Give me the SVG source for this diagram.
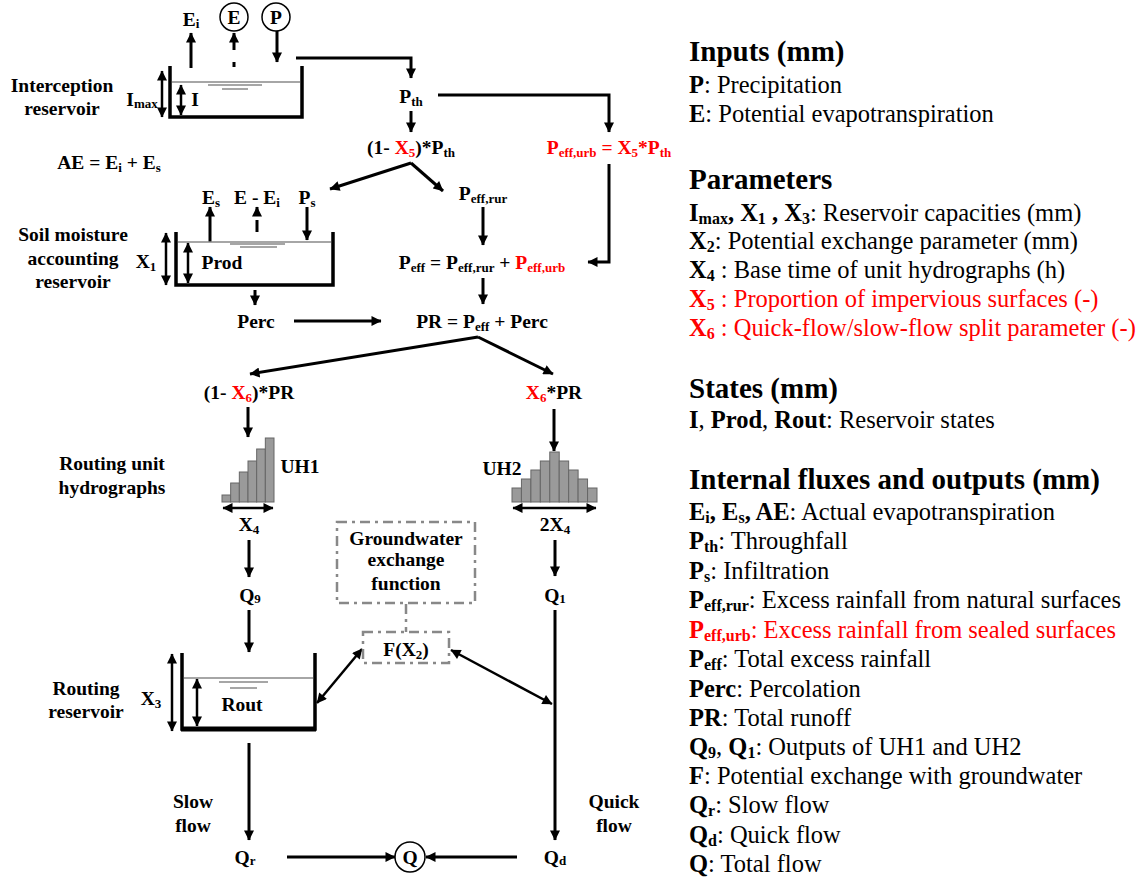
<svg xmlns="http://www.w3.org/2000/svg" width="1138" height="881" viewBox="0 0 1138 881" font-family="'Times New Roman', 'Liberation Serif', serif">
<defs>
<marker id="ah" viewBox="0 0 10 10" refX="9.5" refY="5" markerWidth="11" markerHeight="10" markerUnits="userSpaceOnUse" orient="auto-start-reverse"><path d="M0,0 L10,5 L0,10 z" fill="#000"/></marker>
</defs>
<style>
text, tspan{font-family:'Times New Roman','Liberation Serif',serif}
text{fill:#000}
.t{font-weight:bold;font-size:19.5px;text-anchor:middle}
.s{font-size:13px}
.r{fill:#ff0000}
.lg{font-size:24.5px}
.lh{font-size:29px;font-weight:bold}
.b{font-weight:bold}
.ls{font-size:16px;font-weight:bold}
.ln{stroke:#000;stroke-width:3;fill:none}
.ln2{stroke:#000;stroke-width:2.5;fill:none}
.ar{marker-end:url(#ah)}
.da{marker-start:url(#ah);marker-end:url(#ah)}
.wall{stroke:#000;stroke-width:3.5;fill:none}
.wl{stroke:#888;stroke-width:1.5}
.gd{stroke:#888;stroke-width:2.5;fill:none;stroke-dasharray:10 5 3 5}
.bar{fill:#9a9a9a;stroke:#666;stroke-width:1}
</style>
<rect width="1138" height="881" fill="#fff"/>

<g id="connectors">
<line x1="191" y1="68" x2="191" y2="33" class="ln ar"/>
<rect x="232.5" y="62" width="3" height="5" fill="#000"/>
<line x1="234" y1="50" x2="234" y2="33" class="ln ar"/>
<line x1="277" y1="31" x2="277" y2="62" class="ln ar"/>
<path d="M296,58 H411 V78" class="ln ar"/>
<path d="M438,95 H609 V132" class="ln ar"/>
<line x1="411" y1="111" x2="411" y2="132" class="ln ar"/>
<line x1="411" y1="163" x2="330" y2="189" class="ln ar"/>
<line x1="411" y1="163" x2="443" y2="191" class="ln ar"/>
<line x1="483" y1="207" x2="483" y2="245" class="ln ar"/>
<path d="M609,164 V262 H588" class="ln ar"/>
<line x1="483" y1="278" x2="483" y2="304" class="ln ar"/>
<line x1="294" y1="321" x2="381" y2="321" class="ln ar"/>
<line x1="210" y1="242" x2="210" y2="207" class="ln ar"/>
<line x1="257" y1="232" x2="257" y2="220" class="ln"/>
<line x1="257" y1="216" x2="257" y2="207" class="ln ar"/>
<line x1="307" y1="207" x2="307" y2="240" class="ln ar"/>
<line x1="255" y1="290" x2="255" y2="305" class="ln ar"/>
<line x1="478" y1="337" x2="250" y2="374" class="ln ar"/>
<line x1="478" y1="337" x2="553" y2="374" class="ln ar"/>
<line x1="248" y1="407" x2="248" y2="437" class="ln ar"/>
<line x1="554" y1="409" x2="554" y2="451" class="ln ar"/>
<line x1="249" y1="540" x2="249" y2="577" class="ln ar"/>
<line x1="555" y1="540" x2="555" y2="576" class="ln ar"/>
<line x1="249" y1="610" x2="249" y2="652" class="ln ar"/>
<line x1="249" y1="743" x2="249" y2="840" class="ln ar"/>
<line x1="555" y1="610" x2="555" y2="840" class="ln ar"/>
<line x1="287" y1="857" x2="395" y2="857" class="ln ar"/>
<line x1="517" y1="857" x2="426" y2="857" class="ln ar"/>
<line x1="406" y1="604" x2="406" y2="632" class="gd"/>
<line x1="317" y1="703" x2="362" y2="649" class="ln2 da"/>
<line x1="451" y1="650" x2="552" y2="704" class="ln2 da"/>
</g>

<g id="inputs">
<text x="191" y="26" class="t">E<tspan class="s" dy="2">i</tspan></text>
<circle cx="234" cy="17" r="14" fill="#fff" stroke="#000" stroke-width="1.5"/>
<text x="234" y="24" class="t">E</text>
<circle cx="276" cy="17" r="14" fill="#fff" stroke="#000" stroke-width="1.5"/>
<text x="276" y="24" class="t">P</text>
</g>

<g id="interception">
<path d="M170,66 V117 H302 V66" class="wall"/>
<line x1="172" y1="82" x2="300" y2="82" class="wl"/>
<line x1="208" y1="85" x2="262" y2="85" class="wl"/>
<line x1="222" y1="89" x2="248" y2="89" class="wl"/>
<line x1="162" y1="71" x2="162" y2="117" class="ln2 da"/>
<line x1="181" y1="85" x2="181" y2="115" class="ln2 da"/>
<text x="142" y="106" class="t">I<tspan class="s" dy="2">max</tspan></text>
<text x="195" y="106" class="t">I</text>
<text x="62" y="92" class="t">Interception</text>
<text x="62" y="115" class="t">reservoir</text>
</g>

<g id="pth">
<text x="411" y="103" class="t">P<tspan class="s" dy="3">th</tspan></text>
</g>
<g id="rural-split">
<text x="411" y="154" class="t">(1- <tspan class="r">X<tspan class="s" dy="3">5</tspan></tspan><tspan dy="-3">)*P</tspan><tspan class="s" dy="3">th</tspan></text>
</g>
<g id="peff-urb">
<text x="609" y="154" class="t r">P<tspan class="s r" dy="3">eff,urb</tspan><tspan class="r" dy="-3"> = X</tspan><tspan class="s r" dy="3">5</tspan><tspan class="r" dy="-3">*P</tspan><tspan class="s r" dy="3">th</tspan></text>
</g>
<g id="ae">
<text x="109" y="169" class="t">AE = E<tspan class="s" dy="3">i</tspan><tspan dy="-3"> + E</tspan><tspan class="s" dy="3">s</tspan></text>
</g>

<g id="soil">
<text x="211" y="204" class="t">E<tspan class="s" dy="3">s</tspan></text>
<text x="257" y="204" class="t">E - E<tspan class="s" dy="3">i</tspan></text>
<text x="307" y="204" class="t">P<tspan class="s" dy="3">s</tspan></text>
<path d="M176,232 V285 H333 V232" class="wall"/>
<line x1="178" y1="242" x2="331" y2="242" class="wl"/>
<line x1="230" y1="244" x2="285" y2="244" class="wl"/>
<line x1="240" y1="247" x2="277" y2="247" class="wl"/>
<line x1="166" y1="233" x2="166" y2="285" class="ln2 da"/>
<line x1="188" y1="243" x2="188" y2="283" class="ln2 da"/>
<text x="146" y="268" class="t">X<tspan class="s" dy="3">1</tspan></text>
<text x="222" y="269" class="t">Prod</text>
<text x="73" y="241" class="t">Soil moisture</text>
<text x="73" y="265" class="t">accounting</text>
<text x="73" y="288" class="t">reservoir</text>
<text x="256" y="328" class="t">Perc</text>
</g>

<g id="peff-rur">
<text x="483" y="200" class="t">P<tspan class="s" dy="3">eff,rur</tspan></text>
</g>
<g id="peff">
<text x="482" y="269" class="t">P<tspan class="s" dy="3">eff</tspan><tspan dy="-3"> = P</tspan><tspan class="s" dy="3">eff,rur</tspan><tspan dy="-3"> + </tspan><tspan class="r">P</tspan><tspan class="s r" dy="3">eff,urb</tspan></text>
</g>
<g id="pr">
<text x="482" y="328" class="t">PR = P<tspan class="s" dy="3">eff</tspan><tspan dy="-3"> + Perc</tspan></text>
</g>

<g id="slow-split">
<text x="249" y="399" class="t">(1- <tspan class="r">X<tspan class="s" dy="3">6</tspan></tspan><tspan dy="-3">)*PR</tspan></text>
</g>
<g id="quick-split">
<text x="554" y="399" class="t"><tspan class="r">X<tspan class="s" dy="3">6</tspan></tspan><tspan dy="-3">*PR</tspan></text>
</g>

<g id="uh1">
<rect x="222" y="495" width="8.67" height="7" class="bar"/>
<rect x="230.67" y="483" width="8.67" height="19" class="bar"/>
<rect x="239.33" y="472" width="8.67" height="30" class="bar"/>
<rect x="248" y="461" width="8.67" height="41" class="bar"/>
<rect x="256.67" y="449" width="8.67" height="53" class="bar"/>
<rect x="265.33" y="438" width="8.67" height="64" class="bar"/>
<text x="300" y="473" class="t">UH1</text>
<line x1="223" y1="508" x2="273" y2="508" class="ln2 da"/>
<text x="249" y="531" class="t">X<tspan class="s" dy="3">4</tspan></text>
<text x="112" y="470" class="t">Routing unit</text>
<text x="112" y="494" class="t">hydrographs</text>
</g>

<g id="uh2">
<rect x="512" y="488" width="9.44" height="14" class="bar"/>
<rect x="521.44" y="479" width="9.44" height="23" class="bar"/>
<rect x="530.89" y="470" width="9.44" height="32" class="bar"/>
<rect x="540.33" y="461" width="9.44" height="41" class="bar"/>
<rect x="549.78" y="452" width="9.44" height="50" class="bar"/>
<rect x="559.22" y="461" width="9.44" height="41" class="bar"/>
<rect x="568.67" y="470" width="9.44" height="32" class="bar"/>
<rect x="578.11" y="479" width="9.44" height="23" class="bar"/>
<rect x="587.56" y="488" width="9.44" height="14" class="bar"/>
<text x="502" y="475" class="t">UH2</text>
<line x1="513" y1="508" x2="596" y2="508" class="ln2 da"/>
<text x="555" y="531" class="t">2X<tspan class="s" dy="3">4</tspan></text>
</g>

<g id="q9"><text x="250" y="602" class="t">Q<tspan class="s" dy="1">9</tspan></text></g>
<g id="q1"><text x="555" y="602" class="t">Q<tspan class="s" dy="1">1</tspan></text></g>

<g id="groundwater">
<rect x="337" y="522" width="138" height="81" class="gd"/>
<text x="406" y="545" class="t">Groundwater</text>
<text x="406" y="566" class="t">exchange</text>
<text x="406" y="590" class="t">function</text>
</g>
<g id="fx2">
<rect x="363" y="632" width="86" height="31" class="gd"/>
<text x="406" y="656" class="t">F(X<tspan class="s" dy="3">2</tspan><tspan dy="-3">)</tspan></text>
</g>

<g id="routing">
<path d="M182,653 V729 H315 V653" class="wall"/>
<line x1="181" y1="729" x2="316" y2="729" stroke="#000" stroke-width="5"/>
<line x1="184" y1="678" x2="313" y2="678" class="wl"/>
<line x1="219" y1="682" x2="268" y2="682" class="wl"/>
<line x1="230" y1="688" x2="257" y2="688" class="wl"/>
<line x1="172" y1="654" x2="172" y2="731" class="ln2 da"/>
<line x1="197" y1="679" x2="197" y2="726" class="ln2 da"/>
<text x="151" y="705" class="t">X<tspan class="s" dy="3">3</tspan></text>
<text x="242" y="711" class="t">Rout</text>
<text x="86" y="695" class="t">Routing</text>
<text x="86" y="718" class="t">reservoir</text>
</g>

<g id="outputs">
<text x="193" y="808" class="t">Slow</text>
<text x="193" y="832" class="t">flow</text>
<text x="614" y="808" class="t">Quick</text>
<text x="614" y="832" class="t">flow</text>
<text x="245" y="864" class="t">Q<tspan class="s" dy="1">r</tspan></text>
<text x="555" y="864" class="t">Q<tspan class="s" dy="1">d</tspan></text>
<circle cx="410" cy="857" r="15" fill="#fff" stroke="#000" stroke-width="1.5"/>
<text x="410" y="864" class="t">Q</text>
</g>

<g id="legend">
<text x="689" y="61" class="lh">Inputs (mm)</text>
<text x="689" y="93" class="lg"><tspan class="b">P</tspan>: Precipitation</text>
<text x="689" y="122" class="lg"><tspan class="b">E</tspan>: Potential evapotranspiration</text>
<text x="689" y="189" class="lh">Parameters</text>
<text x="689" y="221" class="lg"><tspan class="b">I</tspan><tspan class="ls" dy="3">max</tspan><tspan class="b" dy="-3">, X</tspan><tspan class="ls" dy="3">1</tspan><tspan class="b" dy="-3"> , X</tspan><tspan class="ls" dy="3">3</tspan><tspan dy="-3">: Reservoir capacities (mm)</tspan></text>
<text x="689" y="249" class="lg"><tspan class="b">X</tspan><tspan class="ls" dy="3">2</tspan><tspan dy="-3">: Potential exchange parameter (mm)</tspan></text>
<text x="689" y="278" class="lg"><tspan class="b">X</tspan><tspan class="ls" dy="3">4</tspan><tspan dy="-3"> : Base time of unit hydrographs (h)</tspan></text>
<text x="689" y="307" class="lg r"><tspan class="b r">X</tspan><tspan class="ls r" dy="3">5</tspan><tspan class="r" dy="-3"> : Proportion of impervious surfaces (-)</tspan></text>
<text x="689" y="336" class="lg r"><tspan class="b r">X</tspan><tspan class="ls r" dy="3">6</tspan><tspan class="r" dy="-3"> : Quick-flow/slow-flow split parameter (-)</tspan></text>
<text x="689" y="398" class="lh">States (mm)</text>
<text x="689" y="428" class="lg"><tspan class="b">I</tspan>, <tspan class="b">Prod</tspan>, <tspan class="b">Rout</tspan>: Reservoir states</text>
<text x="689" y="489" class="lh">Internal fluxes and outputs (mm)</text>
<text x="689" y="520" class="lg"><tspan class="b">E</tspan><tspan class="ls" dy="3">i</tspan><tspan class="b" dy="-3">, E</tspan><tspan class="ls" dy="3">s</tspan><tspan class="b" dy="-3">, AE</tspan>: Actual evapotranspiration</text>
<text x="689" y="549" class="lg"><tspan class="b">P</tspan><tspan class="ls" dy="3">th</tspan><tspan dy="-3">: Throughfall</tspan></text>
<text x="689" y="579" class="lg"><tspan class="b">P</tspan><tspan class="ls" dy="3">s</tspan><tspan dy="-3">: Infiltration</tspan></text>
<text x="689" y="608" class="lg"><tspan class="b">P</tspan><tspan class="ls" dy="3">eff,rur</tspan><tspan dy="-3">: Excess rainfall from natural surfaces</tspan></text>
<text x="689" y="638" class="lg r"><tspan class="b r">P</tspan><tspan class="ls r" dy="3">eff,urb</tspan><tspan class="r" dy="-3">: Excess rainfall from sealed surfaces</tspan></text>
<text x="689" y="667" class="lg"><tspan class="b">P</tspan><tspan class="ls" dy="3">eff</tspan><tspan dy="-3">: Total excess rainfall</tspan></text>
<text x="689" y="697" class="lg"><tspan class="b">Perc</tspan>: Percolation</text>
<text x="689" y="726" class="lg"><tspan class="b">PR</tspan>: Total runoff</text>
<text x="689" y="755" class="lg"><tspan class="b">Q</tspan><tspan class="ls" dy="3">9</tspan><tspan dy="-3">, </tspan><tspan class="b">Q</tspan><tspan class="ls" dy="3">1</tspan><tspan dy="-3">: Outputs of UH1 and UH2</tspan></text>
<text x="689" y="784" class="lg"><tspan class="b">F</tspan>: Potential exchange with groundwater</text>
<text x="689" y="813" class="lg"><tspan class="b">Q</tspan><tspan class="ls" dy="3">r</tspan><tspan dy="-3">: Slow flow</tspan></text>
<text x="689" y="843" class="lg"><tspan class="b">Q</tspan><tspan class="ls" dy="3">d</tspan><tspan dy="-3">: Quick flow</tspan></text>
<text x="689" y="872" class="lg"><tspan class="b">Q</tspan>: Total flow</text>
</g>
</svg>
